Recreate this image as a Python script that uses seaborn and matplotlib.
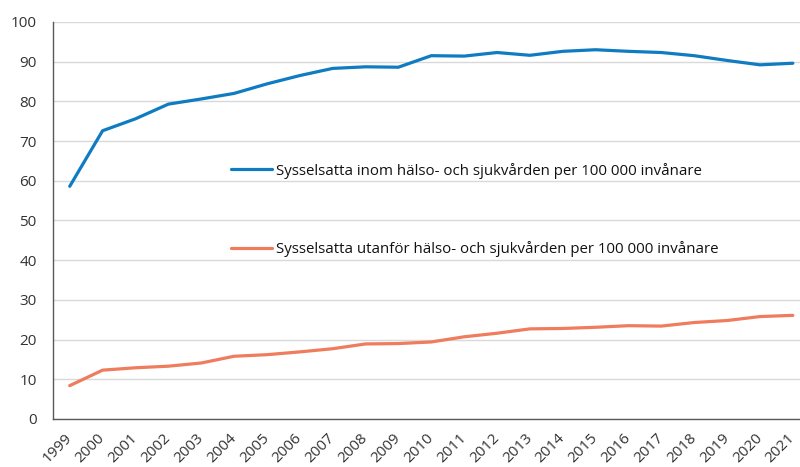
import seaborn as sns
import pandas as pd
import matplotlib.pyplot as plt
from matplotlib.ticker import FixedLocator

years = list(range(1999, 2022))
inom = [58.6, 72.6, 75.6, 79.3, 80.6, 82.0, 84.4, 86.5, 88.3, 88.7, 88.6, 91.5,
        91.4, 92.3, 91.6, 92.6, 93.0, 92.6, 92.3, 91.5, 90.3, 89.2, 89.6]
utanfor = [8.4, 12.3, 12.9, 13.3, 14.1, 15.8, 16.2, 16.9, 17.7, 18.9, 19.0, 19.4,
           20.7, 21.6, 22.7, 22.8, 23.1, 23.5, 23.4, 24.3, 24.8, 25.8, 26.1]
label_inom = 'Sysselsatta inom hälso- och sjukvården per 100 000 invånare'
label_utanfor = 'Sysselsatta utanför hälso- och sjukvården per 100 000 invånare'
colors = {label_inom: '#0f7cc2', label_utanfor: '#ee7c5d'}

df = pd.concat([
    pd.DataFrame({'year': years, 'value': inom, 'serie': label_inom}),
    pd.DataFrame({'year': years, 'value': utanfor, 'serie': label_utanfor}),
])

sns.set_style('white')
plt.rcParams['font.family'] = ['Open Sans', 'DejaVu Sans']

fig = plt.figure(figsize=(8, 4.67), dpi=100)
ax = fig.add_axes([0.0666, 0.1028, 0.945, 0.8502])

sns.lineplot(data=df, x='year', y='value', hue='serie', palette=colors,
             lw=2.3, legend=False, ax=ax)

ax.set_xlim(1998.5, 2021.5)
ax.set_ylim(0, 100)
ax.set_yticks(range(0, 101, 10))
ax.yaxis.grid(True, color='#d9d9d9', lw=1)
ax.set_axisbelow(True)
ax.set_xlabel(None)
ax.set_ylabel(None)

ax.set_xticks(years)
ax.set_xticklabels([str(y) for y in years], rotation=45, ha='right',
                   va='center', rotation_mode='anchor')
ax.xaxis.set_minor_locator(FixedLocator([y - 0.5 for y in years]))
ax.tick_params(axis='x', which='major', length=0, pad=12, labelsize=11,
               labelcolor='#333333')
ax.tick_params(axis='x', which='minor', length=4, width=1, color='#595959',
               direction='out')
ax.tick_params(axis='y', length=4, width=1, color='#595959', direction='in',
               labelsize=11, labelcolor='#333333', pad=12)

for side in ['top', 'right']:
    ax.spines[side].set_visible(False)
for side in ['left', 'bottom']:
    ax.spines[side].set_color('#595959')
    ax.spines[side].set_linewidth(1)

handles = ax.get_lines()
leg_kw = dict(loc='center left', frameon=False, borderpad=0, borderaxespad=0,
              handlelength=2.7, handletextpad=0.28, fontsize=10.8)
leg1 = ax.legend([handles[0]], [label_inom], bbox_to_anchor=(0.2354, 0.6254),
                 **leg_kw)
for t in leg1.get_texts():
    t.set_color('#111111')
ax.add_artist(leg1)
leg2 = ax.legend([handles[1]], [label_utanfor], bbox_to_anchor=(0.2354, 0.428),
                 **leg_kw)
for t in leg2.get_texts():
    t.set_color('#111111')

fig.savefig('out.png', dpi=100)
